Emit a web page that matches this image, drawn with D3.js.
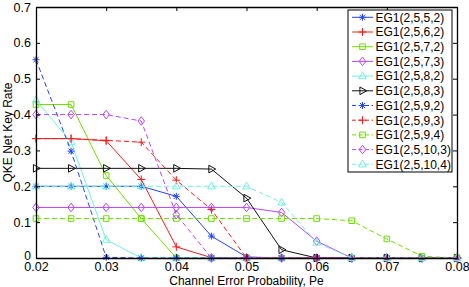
<!DOCTYPE html>
<html><head><meta charset="utf-8">
<script src="https://cdn.jsdelivr.net/npm/d3@7/dist/d3.min.js"></script>
<style>body{margin:0;background:#fff;}svg{display:block;font-family:"Liberation Sans",Arial,sans-serif;}</style>
</head><body>
<svg id="c" width="469" height="287"></svg>
<script>
const xValues = [0.02,0.025,0.03,0.035,0.04,0.045,0.05,0.055,0.06,0.065,0.07,0.075,0.08];
const seriesNames = ["EG1(2,5,5,2)","EG1(2,5,6,2)","EG1(2,5,7,2)","EG1(2,5,7,3)","EG1(2,5,8,2)","EG1(2,5,8,3)","EG1(2,5,9,2)","EG1(2,5,9,3)","EG1(2,5,9,4)","EG1(2,5,10,3)","EG1(2,5,10,4)"];
const s552  = [0.2,0.2,0.2,0.2,0.172,0.061,0.003,0,0,0,0,0,0];
const s562  = [0.333,0.333,0.327,0.219,0.031,0.001,0,0,0,0,0,0,0];
const s572  = [0.428,0.428,0.23,0.11,0,0,0,0,0,0,0,0,0];
const s573  = [0.141,0.141,0.141,0.141,0.141,0.141,0.141,0.127,0.047,0,0,0,0];
const s582  = [0.44,0.323,0.051,0,0,0,0,0,0,0,0,0,0];
const s583  = [0.25,0.25,0.25,0.25,0.25,0.248,0.167,0.023,0,0,0,0,0];
const s592  = [0.553,0.298,0.002,0,0,0,0,0,0,0,0,0,0];
const s593  = [0.333,0.333,0.328,0.323,0.217,0.135,0,0,0,0,0,0,0];
const s594  = [0.11,0.11,0.11,0.11,0.11,0.11,0.11,0.11,0.11,0.104,0.053,0.005,0];
const s5103 = [0.4,0.4,0.4,0.382,0.121,0,0,0,0,0,0,0,0];
const s5104 = [0.2,0.2,0.2,0.2,0.2,0.2,0.2,0.155,0.043,0,0,0,0];
const seriesValues = [s552,s562,s572,s573,s582,s583,s592,s593,s594,s5103,s5104];
const xTicks = [0.02,0.03,0.04,0.05,0.06,0.07,0.08];
const yTicks = [0,0.1,0.2,0.3,0.4,0.5,0.6,0.7];
const xLabel = "Channel Error Probability, Pe";
const yLabel = "QKE Net Key Rate";

const colors = ["#2244ff","#ff1a1a","#6ee000","#b846ff","#70f2e0","#111111","#2244ff","#ff1a1a","#6ee000","#b846ff","#70f2e0"];
const markers = ["star","plus","square","diamond","triup","triright","star","plus","square","diamond","triup"];
const dashed = [false,false,false,false,false,false,true,true,true,true,true];

const L=36,R=457,T=7,B=258;
const svg=d3.select("#c");
const x=d3.scaleLinear().domain([0.02,0.08]).range([L,R]);
const y=d3.scaleLinear().domain([0,0.7]).range([B,T]);

function markerPath(type){
  const p=d3.path();
  if(type==="star"){const r=3.5,d=2.6;p.moveTo(-r,0);p.lineTo(r,0);p.moveTo(0,-r);p.lineTo(0,r);p.moveTo(-d,-d);p.lineTo(d,d);p.moveTo(-d,d);p.lineTo(d,-d);}
  else if(type==="plus"){const r=4;p.moveTo(-r,0);p.lineTo(r,0);p.moveTo(0,-r);p.lineTo(0,r);}
  else if(type==="square"){const r=2.8;p.rect(-r,-r,2*r,2*r);}
  else if(type==="diamond"){p.moveTo(0,-4.3);p.lineTo(3.3,0);p.lineTo(0,4.3);p.lineTo(-3.3,0);p.closePath();}
  else if(type==="triup"){p.moveTo(0,-4.3);p.lineTo(3.8,2.6);p.lineTo(-3.8,2.6);p.closePath();}
  else if(type==="triright"){p.moveTo(4.3,0);p.lineTo(-2.6,3.8);p.lineTo(-2.6,-3.8);p.closePath();}
  return p.toString();
}

svg.append("rect").attr("x",L).attr("y",T).attr("width",R-L).attr("height",B-T).attr("fill","#fff");

const clip=svg.append("g");
const line=d3.line().x((d,i)=>x(xValues[i])).y(d=>y(d));
seriesValues.forEach((vals,k)=>{
  const g=clip.append("g");
  g.append("path").attr("d",line(vals)).attr("fill","none").attr("stroke",colors[k]).attr("stroke-width",1)
   .attr("stroke-dasharray",dashed[k]?"5,3":null);
  g.selectAll("path.m").data(vals).enter().append("path").attr("class","m")
   .attr("d",markerPath(markers[k])).attr("transform",(d,i)=>`translate(${x(xValues[i])},${y(d)})`)
   .attr("fill","none").attr("stroke",colors[k]).attr("stroke-width",1);
});

const tl=4;
const xb=svg.append("g").attr("transform",`translate(0,${B})`).call(d3.axisBottom(x).tickValues(xTicks).tickFormat(d3.format(".2f")).tickSizeInner(-tl).tickSizeOuter(0).tickPadding(4));
const xt=svg.append("g").attr("transform",`translate(0,${T})`).call(d3.axisTop(x).tickValues(xTicks).tickFormat("").tickSizeInner(-tl).tickSizeOuter(0));
const yl=svg.append("g").attr("transform",`translate(${L},0)`).call(d3.axisLeft(y).tickValues(yTicks).tickFormat(d=>d===0?"0":d3.format(".1f")(d)).tickSizeInner(-tl).tickSizeOuter(0).tickPadding(5));
const yr=svg.append("g").attr("transform",`translate(${R},0)`).call(d3.axisRight(y).tickValues(yTicks).tickFormat("").tickSizeInner(-tl).tickSizeOuter(0));
[xb,xt,yl,yr].forEach(a=>{a.select(".domain").attr("stroke","#000").attr("stroke-width",1.3);a.selectAll(".tick line").attr("stroke","#000");a.selectAll("text").attr("font-size",12.5).attr("fill","#000").attr("font-family","Liberation Sans, Arial, sans-serif");});
yl.selectAll(".tick").filter(d=>d===0).select("text").attr("font-size",12).attr("dy","0.12em");

svg.append("text").attr("x",(L+R)/2).attr("y",284.5).attr("text-anchor","middle").attr("font-size",12).text(xLabel);
svg.append("text").attr("transform",`translate(12,${(T+B)/2}) rotate(-90)`).attr("text-anchor","middle").attr("font-size",12).text(yLabel);

const lg=svg.append("g");
const lx=348,ly=10,lw=104,lh=162;
lg.append("rect").attr("x",lx).attr("y",ly).attr("width",lw).attr("height",lh).attr("fill","#fff").attr("stroke","#000").attr("stroke-width",1);
seriesNames.forEach((n,k)=>{
  const yy=17.3+k*14.7;
  lg.append("line").attr("x1",352).attr("x2",373).attr("y1",yy).attr("y2",yy).attr("stroke",colors[k]).attr("stroke-width",1).attr("stroke-dasharray",dashed[k]?"4,2.5":null);
  lg.append("path").attr("d",markerPath(markers[k])).attr("transform",`translate(362.5,${yy})`).attr("fill","none").attr("stroke",colors[k]);
  lg.append("text").attr("x",375.5).attr("y",yy+4.3).attr("font-size",12).attr("fill","#000").text(n);
});
</script>
</body></html>
